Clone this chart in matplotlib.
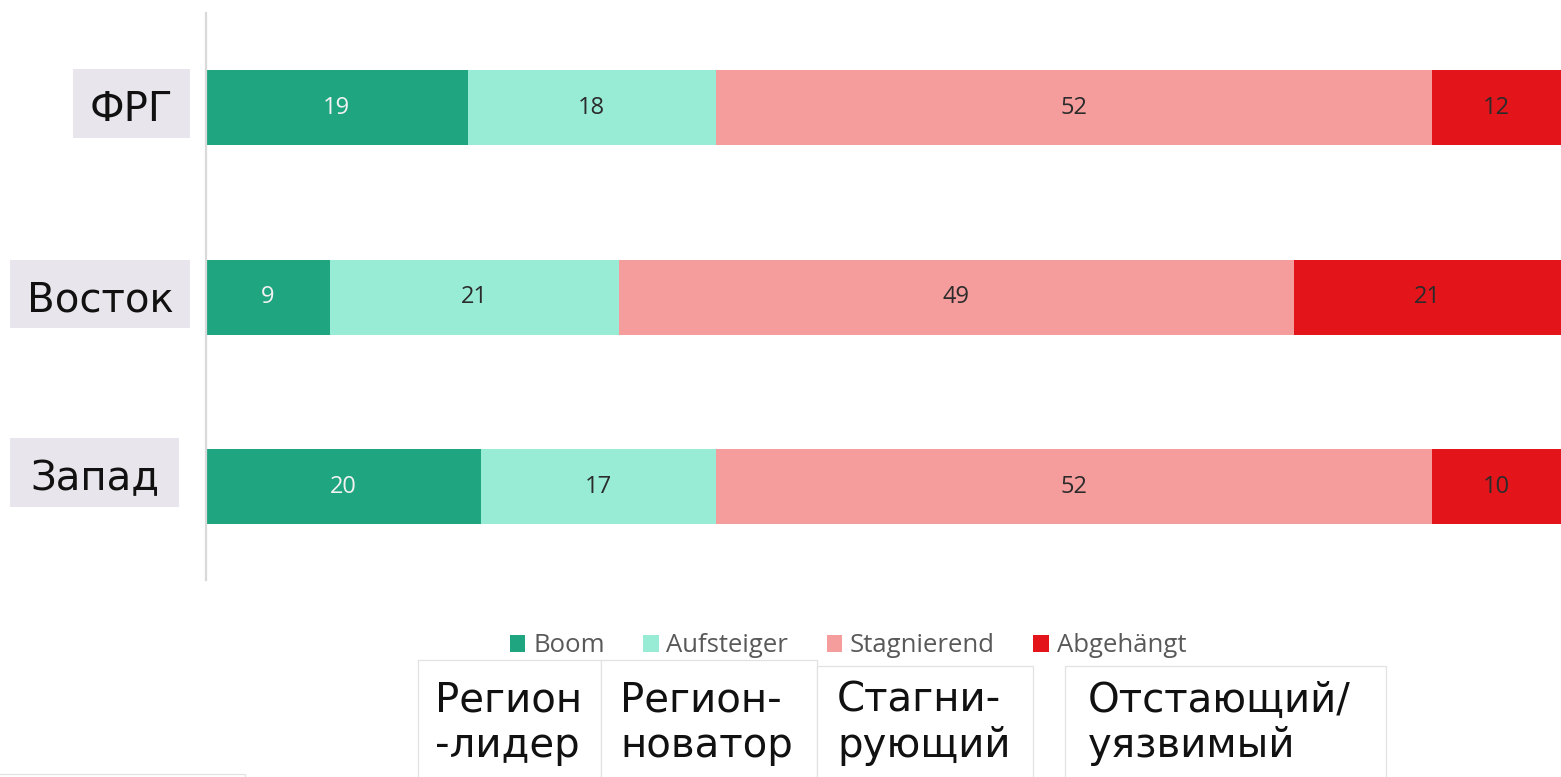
import matplotlib.pyplot as plt
from matplotlib.patches import Rectangle
import numpy as np

W, H = 1561, 777

regions = ['ФРГ', 'Восток', 'Запад']
series = ['Boom', 'Aufsteiger', 'Stagnierend', 'Abgehängt']
boom = [19, 9, 20]
aufsteiger = [18, 21, 17]
stagnierend = [52, 49, 52]
abgehaengt = [12, 21, 10]
ru_types = [['Регион', '-лидер'], ['Регион-', 'новатор'],
            ['Стагни-', 'рующий'], ['Отстающий/', 'уязвимый']]

colors = ['#1fa57f', '#98ecd5', '#f59d9c', '#e3151a']
label_colors = ['#f2f2f2', '#2b2b2b', '#2b2b2b', '#2b2b2b']


def fx(x):
    return x / W


def fy(y):
    return 1 - y / H


fig = plt.figure(figsize=(W / 100, H / 100), dpi=100)
ax = fig.add_axes([fx(206), fy(580), 1 - fx(206), fy(13) - fy(580)])

ypos = np.arange(len(regions))
left = np.zeros(len(regions))
for name, vals, c, lc in zip(series, [boom, aufsteiger, stagnierend, abgehaengt],
                             colors, label_colors):
    bars = ax.barh(ypos, vals, left=left, height=0.396, color=c, label=name,
                   edgecolor='none')
    ax.bar_label(bars, labels=[str(v) for v in vals], label_type='center',
                 color=lc, fontsize=17, family='Open Sans')
    left = left + np.array(vals)

ax.set_xlim(0, 98.4)
ax.set_ylim(2.493, -0.499)
ax.set_xticks([])
ax.set_yticks([])
for s in ['top', 'right', 'bottom']:
    ax.spines[s].set_visible(False)
ax.spines['left'].set_color('#d9d9d9')
ax.spines['left'].set_linewidth(1.6)

# region name boxes
name_boxes = [(73, 69, 190, 138), (10, 260, 190, 328), (10, 438, 179, 507)]
for name, (x0, y0, x1, y1) in zip(regions, name_boxes):
    fig.patches.append(Rectangle((fx(x0), fy(y1)), fx(x1) - fx(x0), fy(y0) - fy(y1),
                                 transform=fig.transFigure, facecolor='#e8e6ec',
                                 edgecolor='none'))
    fig.text(fx((x0 + x1) / 2), fy((y0 + y1) / 2 + 2), name, ha='center',
             va='center_baseline', fontsize=29, color='#111111')

# legend
ax.legend(loc='center', bbox_to_anchor=(fx(848), fy(646)),
          bbox_transform=fig.transFigure, ncol=4, frameon=False,
          prop={'family': 'Open Sans', 'size': 18.5},
          labelcolor='#595959', handlelength=0.6, handleheight=0.6,
          handletextpad=0.3, columnspacing=1.5)

# russian type boxes below
type_boxes = [(418, 660, 601), (601, 660, 817), (817, 666, 1033), (1065, 666, 1386)]
text_x = [435, 620, 837, 1088]
for lines, (x0, y0, x1), tx in zip(ru_types, type_boxes, text_x):
    fig.patches.append(Rectangle((fx(x0), fy(H + 5)), fx(x1) - fx(x0), fy(y0) - fy(H + 5),
                                 transform=fig.transFigure, facecolor='white',
                                 edgecolor='#e2e2e2', linewidth=0.9))
    fig.text(fx(tx), fy(712), lines[0], ha='left', va='baseline',
             fontsize=29, color='#111111')
    fig.text(fx(tx), fy(757), lines[1], ha='left', va='baseline',
             fontsize=29, color='#111111')

fig.patches.append(Rectangle((fx(-5), fy(H + 5)), fx(245) - fx(-5), fy(774) - fy(H + 5),
                             transform=fig.transFigure, facecolor='white',
                             edgecolor='#e2e2e2', linewidth=0.9))

fig.savefig('out.png', dpi=100)
